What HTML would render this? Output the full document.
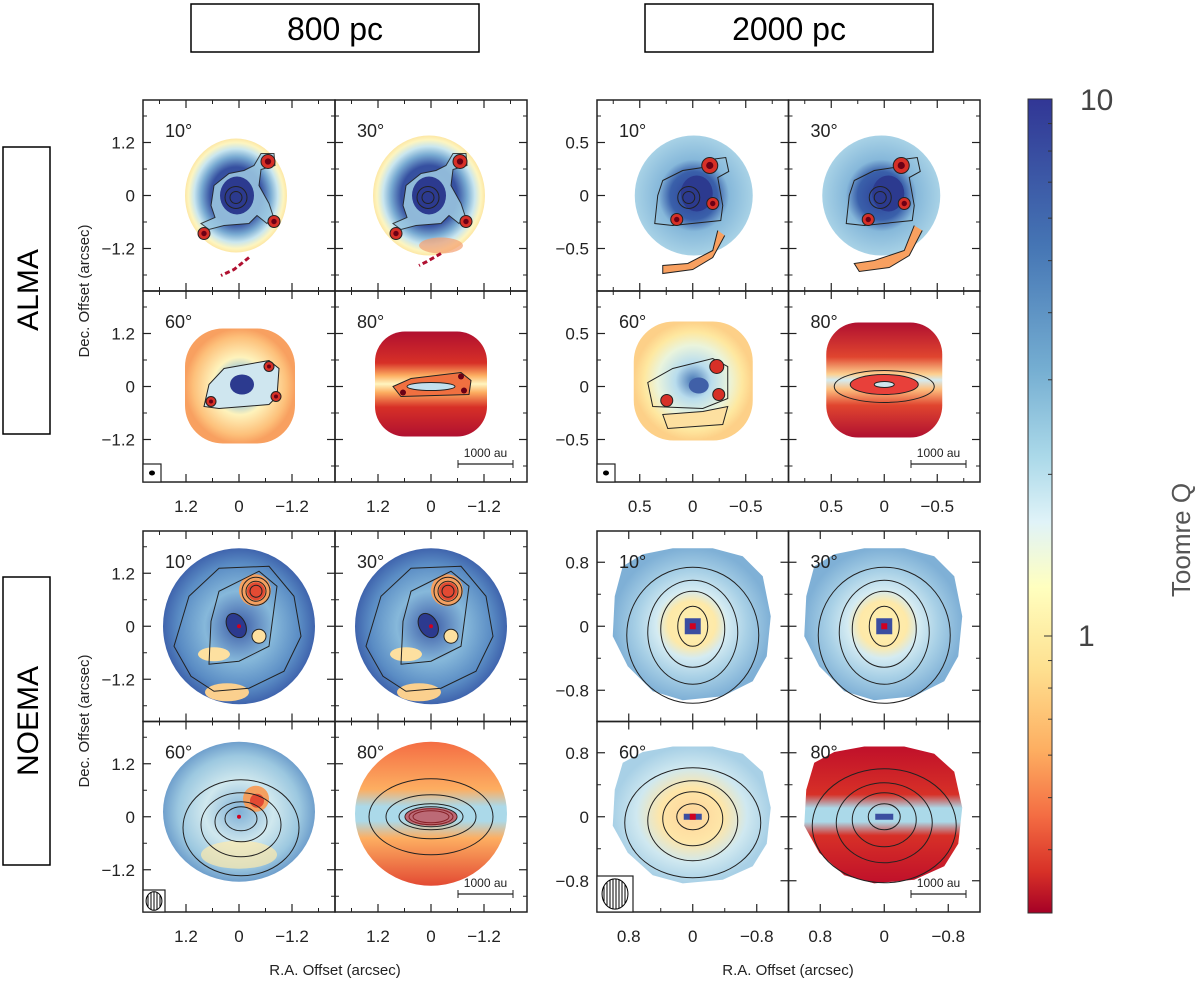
<!DOCTYPE html>
<html><head><meta charset="utf-8">
<style>
html,body{margin:0;padding:0;background:#fff;}
svg{display:block;font-family:"Liberation Sans",sans-serif;}
</style></head>
<body>
<svg id="fig" width="1200" height="984" viewBox="0 0 1200 984" xmlns="http://www.w3.org/2000/svg">
<defs>
<radialGradient id="gA10"><stop offset="0" stop-color="#8fc0de"/><stop offset="0.2" stop-color="#3a55a2"/><stop offset="0.5" stop-color="#3650a0"/><stop offset="0.68" stop-color="#78aad2"/><stop offset="0.82" stop-color="#c9e6ef"/><stop offset="0.93" stop-color="#fdf5c0"/><stop offset="1" stop-color="#fde7a5"/></radialGradient>
<radialGradient id="gA60"><stop offset="0" stop-color="#3a55a2"/><stop offset="0.25" stop-color="#8ec0de"/><stop offset="0.5" stop-color="#fef3bc"/><stop offset="0.85" stop-color="#fdc07a"/><stop offset="1" stop-color="#f8a060"/></radialGradient>
<linearGradient id="gA80" x1="0" y1="0" x2="0" y2="1"><stop offset="0" stop-color="#b01030"/><stop offset="0.3" stop-color="#d73027"/><stop offset="0.42" stop-color="#fdae61"/><stop offset="0.5" stop-color="#fff5c0"/><stop offset="0.58" stop-color="#fdae61"/><stop offset="0.72" stop-color="#d73027"/><stop offset="1" stop-color="#b01030"/></linearGradient>
<radialGradient id="gB10"><stop offset="0" stop-color="#2c3f98"/><stop offset="0.4" stop-color="#3a60aa"/><stop offset="0.6" stop-color="#86b8da"/><stop offset="1" stop-color="#a8d2e6"/></radialGradient>
<radialGradient id="gB60"><stop offset="0" stop-color="#4575b4"/><stop offset="0.3" stop-color="#b8dced"/><stop offset="0.6" stop-color="#eaf4dc"/><stop offset="0.82" stop-color="#fee8a0"/><stop offset="1" stop-color="#fdd088"/></radialGradient>
<linearGradient id="gB80" x1="0" y1="0" x2="0" y2="1"><stop offset="0" stop-color="#b01030"/><stop offset="0.3" stop-color="#e0452f"/><stop offset="0.45" stop-color="#fdd090"/><stop offset="0.5" stop-color="#d4ebf0"/><stop offset="0.58" stop-color="#fdc080"/><stop offset="0.72" stop-color="#e0452f"/><stop offset="1" stop-color="#b01030"/></linearGradient>
<radialGradient id="gC"><stop offset="0" stop-color="#3b5aa6"/><stop offset="0.45" stop-color="#86b8da"/><stop offset="0.8" stop-color="#5a8cc4"/><stop offset="1" stop-color="#3f64ad"/></radialGradient>
<radialGradient id="gC60"><stop offset="0" stop-color="#7fb0d6"/><stop offset="0.45" stop-color="#d0e8ee"/><stop offset="0.8" stop-color="#9cc8e0"/><stop offset="1" stop-color="#6f9fcc"/></radialGradient>
<linearGradient id="gC80" x1="0" y1="0" x2="0" y2="1"><stop offset="0" stop-color="#f46d43"/><stop offset="0.33" stop-color="#fdae61"/><stop offset="0.45" stop-color="#abd9e9"/><stop offset="0.55" stop-color="#abd9e9"/><stop offset="0.67" stop-color="#fdae61"/><stop offset="1" stop-color="#e34a33"/></linearGradient>
<radialGradient id="gD"><stop offset="0" stop-color="#fef0b0"/><stop offset="0.3" stop-color="#fee9a8"/><stop offset="0.45" stop-color="#d4ebf2"/><stop offset="0.7" stop-color="#a8d0e6"/><stop offset="1" stop-color="#7fb0d6"/></radialGradient>
<radialGradient id="gD60"><stop offset="0" stop-color="#fdd49a"/><stop offset="0.4" stop-color="#fee6a8"/><stop offset="0.7" stop-color="#cfe8f0"/><stop offset="1" stop-color="#a8d0e6"/></radialGradient>
<linearGradient id="gD80" x1="0" y1="0" x2="0" y2="1"><stop offset="0" stop-color="#c0102a"/><stop offset="0.35" stop-color="#d73027"/><stop offset="0.45" stop-color="#abd9e9"/><stop offset="0.55" stop-color="#abd9e9"/><stop offset="0.65" stop-color="#d73027"/><stop offset="1" stop-color="#c0102a"/></linearGradient>
<linearGradient id="cbar" x1="0" y1="0" x2="0" y2="1"><stop offset="0" stop-color="#313695"/><stop offset="0.18" stop-color="#4575b4"/><stop offset="0.33" stop-color="#74add1"/><stop offset="0.44" stop-color="#abd9e9"/><stop offset="0.52" stop-color="#e0f3f8"/><stop offset="0.6" stop-color="#ffffbf"/><stop offset="0.7" stop-color="#fee090"/><stop offset="0.8" stop-color="#fdae61"/><stop offset="0.88" stop-color="#f46d43"/><stop offset="0.95" stop-color="#d73027"/><stop offset="1" stop-color="#a50026"/></linearGradient>
<pattern id="hatch" width="3" height="3" patternUnits="userSpaceOnUse"><rect width="3" height="3" fill="#fff"/><line x1="1" y1="0" x2="1" y2="3" stroke="#000" stroke-width="1"/></pattern>
</defs>

<g><rect x="191" y="4" width="288" height="48" fill="none" stroke="#000" stroke-width="1.5"/><text x="335" y="40" font-size="32" text-anchor="middle">800  pc</text></g>
<g><rect x="645" y="4" width="288" height="48" fill="none" stroke="#000" stroke-width="1.5"/><text x="789" y="40" font-size="32" text-anchor="middle">2000  pc</text></g>
<g><rect x="3" y="147" width="47" height="287" fill="none" stroke="#000" stroke-width="1.5"/><text transform="translate(38,290) rotate(-90)" font-size="30" text-anchor="middle">ALMA</text></g>
<g><rect x="3" y="577" width="47" height="288" fill="none" stroke="#000" stroke-width="1.5"/><text transform="translate(38,721) rotate(-90)" font-size="30" text-anchor="middle">NOEMA</text></g>

<g id="panels"></g>
<g id="axes"></g>

<g>
<rect x="1028" y="99" width="24" height="814" fill="url(#cbar)" stroke="#333" stroke-width="1"/>
<g id="cbticks"></g>
<text x="1080" y="110" font-size="30" font-weight="300" fill="#444">10</text>
<text x="1078" y="646" font-size="30" fill="#444">1</text>
<text transform="translate(1190,540) rotate(-90)" font-size="26" fill="#555" text-anchor="middle">Toomre Q</text>
</g>
</svg>
<script>
const NS="http://www.w3.org/2000/svg";
// ---- data ----
const inclinations=["10°","30°","60°","80°"];
const ticksArc800=[1.2,0,-1.2];
const ticksArcAlma2000=[0.5,0,-0.5];
const ticksArcNoema2000=[0.8,0,-0.8];
const minorArc800=[-1.8,-0.6,0.6,1.8];
const minorAlma2000=[-0.75,-0.25,0.25,0.75];
const minorNoema2000=[-1.2,-0.4,0.4,1.2];
const cbarMajor=[1,10];
const cbarMinor=[0.3,0.4,0.5,0.6,0.7,0.8,0.9,2,3,4,5,6,7,8,9];

const blocks=[
 {name:"alma-800pc",x:143,y:100,w:192,h:191,scale:53/1.2,ticks:ticksArc800,minor:minorArc800,kind:"A",beam:"dot"},
 {name:"alma-2000pc",x:597,y:100,w:191.5,h:191,scale:53/0.5,ticks:ticksArcAlma2000,minor:minorAlma2000,kind:"B",beam:"dot"},
 {name:"noema-800pc",x:143,y:531,w:192,h:190.5,scale:53/1.2,ticks:ticksArc800,minor:minorArc800,kind:"C",beam:"hatch-small"},
 {name:"noema-2000pc",x:597,y:531,w:191.5,h:190.5,scale:64/0.8,ticks:ticksArcNoema2000,minor:minorNoema2000,kind:"D",beam:"hatch-big"}
];

function el(tag,attrs,parent){const e=document.createElementNS(NS,tag);for(const k in attrs)e.setAttribute(k,attrs[k]);if(parent)parent.appendChild(e);return e;}
const panelsG=document.getElementById("panels");
const axesG=document.getElementById("axes");
let clipId=0;

function mapShapes(kind,i,g){
  const C='#222';
  if(kind==="A"){
    if(i<2){
      const rx=i?56:51, ry=i?60:57, dx=i?-2:-3;
      el("ellipse",{cx:dx,cy:0,rx:rx,ry:ry,fill:"url(#gA10)"},g);
      if(i==1) el("ellipse",{cx:10,cy:50,rx:22,ry:8,fill:"#f4a070",opacity:0.7},g);
      el("path",{d:"M-25,-10 L-10,-22 L5,-25 L15,-30 L22,-42 L35,-42 L36,-30 L22,-26 L20,-10 L30,8 L34,20 L28,28 L18,20 L10,28 L-15,30 L-30,34 L-38,28 L-24,22 L-28,10 Z",fill:"#9fcbe3",stroke:C,"stroke-width":1,opacity:0.85},g);
      el("ellipse",{cx:-2,cy:0,rx:17,ry:19,fill:"#2c3a8f"},g);
      el("circle",{cx:-3,cy:2,r:6,fill:"none",stroke:C},g);
      el("circle",{cx:-3,cy:2,r:11,fill:"none",stroke:C},g);
      [[29,-34,7],[35,26,6],[-35,38,6]].forEach(p=>{el("circle",{cx:p[0],cy:p[1],r:p[2],fill:"#d73027",stroke:C},g);el("circle",{cx:p[0],cy:p[1],r:p[2]*0.45,fill:"#6b0015"},g);});
      el("path",{d:i?"M10,58 L-4,66 L-12,70":"M10,62 L-5,74 L-18,80",stroke:"#b01030","stroke-width":3,fill:"none","stroke-dasharray":"5 3"},g);
    } else if(i==2){
      el("rect",{x:-54,y:-58,width:110,height:115,rx:38,fill:"url(#gA60)"},g);
      el("path",{d:"M-30,-2 L-15,-18 L30,-26 L40,-18 L38,10 L30,18 L-20,22 L-35,20 Z",fill:"#cfe6ef",stroke:C},g);
      el("ellipse",{cx:3,cy:-2,rx:12,ry:10,fill:"#2c3a8f"},g);
      [[30,-20,5],[37,10,5],[-28,15,5]].forEach(p=>{el("circle",{cx:p[0],cy:p[1],r:p[2],fill:"#d73027",stroke:C},g);el("circle",{cx:p[0],cy:p[1],r:2,fill:"#6b0015"},g);});
    } else {
      el("rect",{x:-56,y:-55,width:112,height:105,rx:30,fill:"url(#gA80)"},g);
      el("path",{d:"M-38,0 L-20,-8 L30,-14 L40,-6 L38,8 L-30,10 Z",fill:"#f07040",stroke:C},g);
      el("ellipse",{cx:0,cy:0,rx:24,ry:4,fill:"#c2e0ee",stroke:C},g);
      el("circle",{cx:30,cy:-10,r:3,fill:"#6b0015"},g);el("circle",{cx:33,cy:4,r:3,fill:"#6b0015"},g);el("circle",{cx:-28,cy:6,r:3,fill:"#6b0015"},g);
    }
  } else if(kind==="B"){
    if(i<2){
      el("ellipse",{cx:i?-3:1,cy:0,rx:59,ry:60,fill:"url(#gB10)"},g);
      el("path",{d:i?"M30,30 L20,55 L-10,65 L-30,68 L-25,76 L5,72 L25,60 L38,35":"M25,35 L20,55 L-5,68 L-30,70 L-30,78 L0,74 L20,62 L32,40",fill:"#f8a060",stroke:C},g);
      el("path",{d:"M-30,-15 L-10,-25 L10,-28 L18,-36 L33,-38 L36,-24 L25,-18 L30,10 L28,25 L-20,30 L-38,28 L-35,0 Z",fill:"none",stroke:C},g);
      el("ellipse",{cx:4,cy:-2,rx:16,ry:18,fill:"#2c3a8f"},g);
      [[17,-30,8],[20,8,6],[-16,24,6]].forEach(p=>{el("circle",{cx:p[0],cy:p[1],r:p[2],fill:"#d73027",stroke:C},g);el("circle",{cx:p[0],cy:p[1],r:p[2]*0.45,fill:"#6b0015"},g);});
      el("circle",{cx:-4,cy:2,r:6,fill:"none",stroke:C},g);el("circle",{cx:-4,cy:2,r:11,fill:"none",stroke:C},g);
    } else if(i==2){
      el("rect",{x:-59,y:-65,width:119,height:119,rx:40,fill:"url(#gB60)"},g);
      el("path",{d:"M-45,-4 L-20,-18 L20,-28 L35,-20 L35,12 L10,22 L-40,20 Z",fill:"none",stroke:C},g);
      el("path",{d:"M-30,28 L10,25 L35,20 L30,38 L-25,42 Z",fill:"#fde0a0",stroke:C},g);
      [[24,-20,7],[26,8,6],[-26,14,6]].forEach(p=>{el("circle",{cx:p[0],cy:p[1],r:p[2],fill:"#d73027",stroke:C},g);});
      el("ellipse",{cx:6,cy:-1,rx:10,ry:8,fill:"#4060a8"},g);
    } else {
      el("rect",{x:-58,y:-64,width:116,height:115,rx:32,fill:"url(#gB80)"},g);
      el("ellipse",{cx:0,cy:0,rx:50,ry:16,fill:"none",stroke:C},g);
      el("ellipse",{cx:0,cy:-2,rx:34,ry:10,fill:"#e8403a",stroke:C},g);
      el("ellipse",{cx:0,cy:-2,rx:10,ry:3,fill:"#cfe6ef",stroke:C},g);
    }
  } else if(kind==="C"){
    if(i<2){
      el("ellipse",{cx:0,cy:0,rx:76,ry:78,fill:"url(#gC)"},g);
      el("ellipse",{cx:-12,cy:66,rx:22,ry:9,fill:"#fbd08e"},g);
      el("ellipse",{cx:-25,cy:28,rx:16,ry:7,fill:"#fde0a0"},g);
      el("circle",{cx:16,cy:-36,r:16,fill:"#f4a060"},g);el("circle",{cx:17,cy:-35,r:9,fill:"#e34a33"},g);
      [6,10,14].forEach(r=>el("circle",{cx:17,cy:-35,r:r,fill:"none",stroke:C},g));
      el("ellipse",{cx:-2,cy:-2,rx:9,ry:13,fill:"#2c3a8f",stroke:C,transform:"rotate(-30)"},g);
      el("path",{d:"M-28,-5 L-20,-35 L20,-55 L38,-40 L30,20 L0,35 L-30,38 Z",fill:"none",stroke:C},g);
      el("path",{d:"M-50,-30 L-20,-58 L30,-60 L55,-30 L62,10 L45,45 L10,62 L-25,65 L-48,50 L-65,20 Z",fill:"none",stroke:C},g);
      el("circle",{cx:20,cy:10,r:7,fill:"#fde0a0",stroke:C},g);
      el("circle",{cx:0,cy:0,r:2,fill:"#d00020"},g);
    } else if(i==2){
      el("ellipse",{cx:0,cy:-5,rx:76,ry:70,fill:"url(#gC60)"},g);
      el("ellipse",{cx:0,cy:38,rx:38,ry:14,fill:"#fee9ad",opacity:0.7},g);
      el("circle",{cx:17,cy:-18,r:13,fill:"#f4a060"},g);el("circle",{cx:18,cy:-16,r:7,fill:"#e34a33"},g);
      [[16,12],[26,20],[40,32],[58,48]].forEach((r,k)=>el("ellipse",{cx:2,cy:2+k*3,rx:r[0],ry:r[1],fill:"none",stroke:C},g));
      el("circle",{cx:0,cy:0,r:2,fill:"#d00020"},g);
    } else {
      el("ellipse",{cx:0,cy:-3,rx:76,ry:72,fill:"url(#gC80)"},g);
      [[18,6],[22,8],[26,10],[32,13],[45,22],[62,38]].forEach(r=>el("ellipse",{cx:0,cy:0,rx:r[0],ry:r[1],fill:"none",stroke:C},g));
      el("ellipse",{cx:0,cy:0,rx:26,ry:9,fill:"#c8202a",opacity:0.6},g);
    }
  } else {
    const blocky=(grad,ry)=>{el("path",{d:"M-70,-60 L-50,-72 L-20,-78 L20,-78 L50,-70 L70,-50 L78,-10 L74,30 L60,55 L30,70 L-10,74 L-40,65 L-65,40 L-80,10 L-78,-30 Z",fill:grad,transform:"scale(1,"+ry+")"},g);};
    if(i<2){
      blocky("url(#gD)",1);
      [[15,20],[32,38],[45,52],[66,68]].forEach((r,k)=>el("ellipse",{cx:0,cy:k*3,rx:r[0],ry:r[1],fill:"none",stroke:C},g));
      el("rect",{x:-8,y:-8,width:16,height:16,fill:"#3b4ea0"},g);el("rect",{x:-3,y:-3,width:6,height:6,fill:"#d00020"},g);
    } else if(i==2){
      blocky("url(#gD60)",0.9);
      [[16,13],[30,27],[45,40],[68,55]].forEach((r,k)=>el("ellipse",{cx:0,cy:k*2,rx:r[0],ry:r[1],fill:"none",stroke:C},g));
      el("rect",{x:-9,y:-3,width:18,height:6,fill:"#3b4ea0"},g);el("rect",{x:-3,y:-3,width:6,height:6,fill:"#d00020"},g);
    } else {
      blocky("url(#gD80)",0.9);
      [[16,13],[32,27],[48,40],[72,57]].forEach((r,k)=>el("ellipse",{cx:0,cy:k*3,rx:r[0],ry:r[1],fill:"none",stroke:C},g));
      el("rect",{x:-9,y:-3,width:18,height:6,fill:"#3b4ea0"},g);
    }
  }
}

blocks.forEach(b=>{
  for(let i=0;i<4;i++){
    const col=i%2,row=Math.floor(i/2);
    const px=b.x+col*b.w, py=b.y+row*b.h, cx=px+b.w/2, cy=py+b.h/2;
    const cid="clip"+(clipId++);
    const cp=el("clipPath",{id:cid},panelsG);el("rect",{x:px,y:py,width:b.w,height:b.h},cp);
    const pg=el("g",{"clip-path":"url(#"+cid+")"},panelsG);
    
    
    const inner=el("g",{transform:"translate("+cx+","+cy+")"},pg);
    mapShapes(b.kind,i,inner);
    const fr=el("rect",{x:px,y:py,width:b.w,height:b.h,fill:"none",stroke:"#222","stroke-width":1.5},axesG);
    
    
    const sc=b.scale;
    b.ticks.forEach(t=>{
      const xx=cx-t*sc, yy=cy-t*sc;
      el("line",{x1:xx,y1:py,x2:xx,y2:py+8,stroke:"#222","stroke-width":1.2},axesG);
      el("line",{x1:xx,y1:py+b.h,x2:xx,y2:py+b.h-8,stroke:"#222","stroke-width":1.2},axesG);
      el("line",{x1:px,y1:yy,x2:px+8,y2:yy,stroke:"#222","stroke-width":1.2},axesG);
      el("line",{x1:px+b.w,y1:yy,x2:px+b.w-8,y2:yy,stroke:"#222","stroke-width":1.2},axesG);
    });
    b.minor.forEach(t=>{
      const xx=cx-t*sc, yy=cy-t*sc;
      if(xx>px&&xx<px+b.w){el("line",{x1:xx,y1:py,x2:xx,y2:py+4,stroke:"#222"},axesG);el("line",{x1:xx,y1:py+b.h,x2:xx,y2:py+b.h-4,stroke:"#222"},axesG);}
      if(yy>py&&yy<py+b.h){el("line",{x1:px,y1:yy,x2:px+4,y2:yy,stroke:"#222"},axesG);el("line",{x1:px+b.w,y1:yy,x2:px+b.w-4,y2:yy,stroke:"#222"},axesG);}
    });
    if(col==0){
      b.ticks.forEach(t=>{
        const tx=el("text",{x:px-8,y:cy-t*sc+6,"font-size":17,"text-anchor":"end",fill:"#222"},axesG);
        tx.textContent=(t<0?"\u2212":"")+Math.abs(t);
        
        
      });
    }
    if(row==1){
      b.ticks.forEach(t=>{
        const tx=el("text",{x:cx-t*sc,y:py+b.h+30,"font-size":17,"text-anchor":"middle",fill:"#222"},axesG);
        tx.textContent=(t<0?"\u2212":"")+Math.abs(t);
        
        
      });
    }
    const lab=el("text",{x:px+22,y:py+37,"font-size":18,fill:"#222"},axesG);
    lab.textContent=inclinations[i];
    
    
    if(i==3){
      const bx1=px+b.w-69, bx2=px+b.w-14, by=py+b.h-18;
      el("line",{x1:bx1,y1:by,x2:bx2,y2:by,stroke:"#222","stroke-width":1.3},axesG);
      el("line",{x1:bx1,y1:by-4,x2:bx1,y2:by+4,stroke:"#222"},axesG);
      el("line",{x1:bx2,y1:by-4,x2:bx2,y2:by+4,stroke:"#222"},axesG);
      const st=el("text",{x:(bx1+bx2)/2,y:by-7,"font-size":12,"text-anchor":"middle",fill:"#222"},axesG);
      st.textContent="1000 au";
      
      
    }
    if(i==2){
      const s=b.beam==="hatch-big"?36:(b.beam==="dot"?18:22);
      el("rect",{x:px,y:py+b.h-s,width:s,height:s,fill:"#fff",stroke:"#222","stroke-width":1.2},axesG);
      if(b.beam==="dot") el("ellipse",{cx:px+s/2,cy:py+b.h-s/2,rx:3,ry:2.5,fill:"#000"},axesG);
      else el("ellipse",{cx:px+s/2,cy:py+b.h-s/2,rx:s*0.36,ry:s*0.42,fill:"url(#hatch)",stroke:"#000"},axesG);
    }
  }
});

[[291],[721]].forEach(v=>{
  const t=el("text",{transform:"translate(89,"+v[0]+") rotate(-90)","font-size":15,"text-anchor":"middle",fill:"#222"},axesG);
  t.textContent="Dec. Offset (arcsec)";
  
  
});
[335,788].forEach(x=>{
  const t=el("text",{x:x,y:975,"font-size":15,"text-anchor":"middle",fill:"#222"},axesG);
  t.textContent="R.A. Offset (arcsec)";
  
  
});

const cbG=document.getElementById("cbticks");
const cbY=q=>636-537*Math.log10(q);
cbarMinor.forEach(q=>{const y=cbY(q);if(y>100&&y<912)el("line",{x1:1048,y1:y,x2:1052,y2:y,stroke:"#333"},cbG);});
cbarMajor.forEach(q=>{const y=cbY(q);el("line",{x1:1044,y1:y,x2:1052,y2:y,stroke:"#333"},cbG);});
</script>
</body></html>
